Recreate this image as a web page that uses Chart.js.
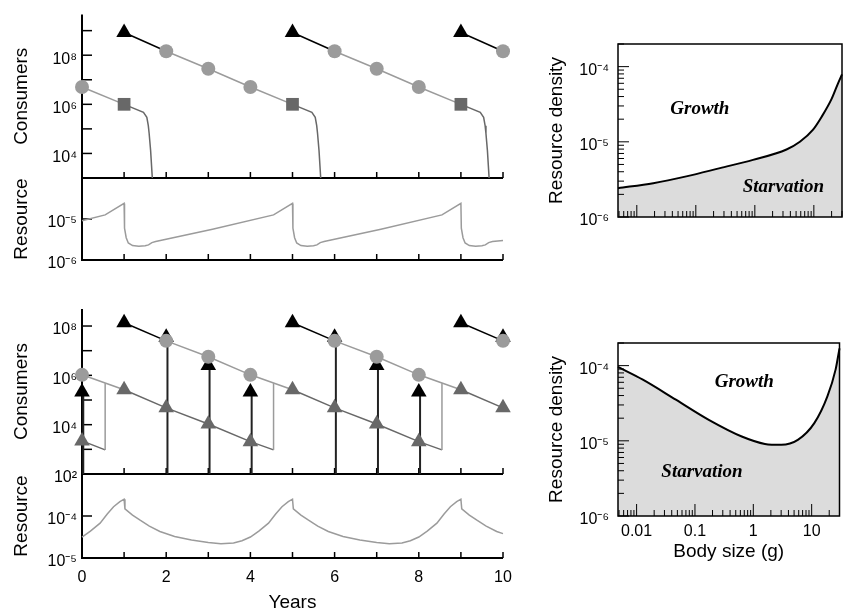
<!DOCTYPE html>
<html><head><meta charset="utf-8">
<script src="https://cdn.jsdelivr.net/npm/chart.js@4.4.1/dist/chart.umd.min.js"></script>
<style>
html,body{margin:0;padding:0;background:#fff;}
#wrap{position:relative;width:845px;height:614px;overflow:hidden;background:#fff;}
#wrap canvas{position:absolute;left:0;top:0;}
</style></head>
<body><div id="wrap">
<canvas id="cA" width="845" height="614"></canvas>
<canvas id="cB" width="845" height="614"></canvas>
<canvas id="cC" width="845" height="614"></canvas>
<canvas id="cD" width="845" height="614"></canvas>
<canvas id="cE" width="845" height="614"></canvas>
<canvas id="cF" width="845" height="614"></canvas>
</div>
<script>
// ---------- shared ticks ----------
const YEARS = [0,1,2,3,4,5,6,7,8,9,10];
const YEAR_LABELS = ['0','','2','','4','','6','','8','','10'];

// ---------- upper-left: consumers (cohorts) ----------
const topC0Birth = -3, topC1Birth = 1, topC2Birth = 5, topC3Birth = 9;
const topC0T = [0, 1, 1.46, 1.54, 1.575, 1.595, 1.63, 1.67];
const topC0N = [5.1e6, 1.0e6, 4.7e5, 2.95e5, 1.35e5, 6.5e4, 1.3e4, 1.0e3];
const topC1T = [1, 2, 3, 4, 5, 5.46, 5.54, 5.575, 5.595, 5.63, 5.67];
const topC1N = [8.4e8, 1.45e8, 2.8e7, 5.1e6, 1.0e6, 4.7e5, 2.95e5, 1.35e5, 6.5e4, 1.3e4, 1.0e3];
const topC2T = [5, 6, 7, 8, 9, 9.46, 9.54, 9.575, 9.595, 9.63, 9.67];
const topC2N = [8.4e8, 1.45e8, 2.8e7, 5.1e6, 1.0e6, 4.7e5, 2.95e5, 1.35e5, 6.5e4, 1.3e4, 1.0e3];
const topC3T = [9, 10];
const topC3N = [8.4e8, 1.45e8];
const topTriT = [1, 5, 9];
const topTriN = [8.4e8, 8.4e8, 8.4e8];
const topCircT = [0, 2, 3, 4, 6, 7, 8, 10];
const topCircN = [5.1e6, 1.45e8, 2.8e7, 5.1e6, 1.45e8, 2.8e7, 5.1e6, 1.45e8];
const topSqT = [1, 5, 9];
const topSqN = [1.0e6, 1.0e6, 1.0e6];
const topConsTicks = [1e3, 1e4, 1e5, 1e6, 1e7, 1e8, 1e9];
const topConsLabels = ['', '10⁴', '', '10⁶', '', '10⁸', ''];

// ---------- upper-left: resource ----------
const topResT = [0, 0.55, 1.0, 1.01, 1.05, 1.1, 1.2, 1.35, 1.5, 1.58, 1.66, 1.75, 3.1, 4.55,
                 5.0, 5.01, 5.05, 5.1, 5.2, 5.35, 5.5, 5.58, 5.66, 5.75, 7.1, 8.55,
                 9.0, 9.01, 9.05, 9.1, 9.2, 9.35, 9.5, 9.58, 9.66, 9.75, 10];
const topResR = [9.1e-6, 1.26e-5, 2.4e-5, 6.0e-6, 3.5e-6, 2.6e-6, 2.25e-6, 2.18e-6, 2.24e-6, 2.34e-6, 2.66e-6, 2.82e-6, 5.6e-6, 1.26e-5,
                 2.4e-5, 6.0e-6, 3.5e-6, 2.6e-6, 2.25e-6, 2.18e-6, 2.24e-6, 2.34e-6, 2.66e-6, 2.82e-6, 5.6e-6, 1.26e-5,
                 2.4e-5, 6.0e-6, 3.5e-6, 2.6e-6, 2.25e-6, 2.18e-6, 2.24e-6, 2.34e-6, 2.66e-6, 2.82e-6, 3.0e-6];
const topResTicks = [1e-6, 1e-5];
const topResLabels = ['10⁻⁶', '10⁻⁵'];

// ---------- lower-left: consumers ----------
const botC0Birth = -7, botC1Birth = -3, botC2Birth = 1, botC3Birth = 5, botC4Birth = 9;
const botC0T = [0, 0.55, 0.55];
const botC0N = [2.2e3, 9.5e2, 4.8e5];
const botC1T = [0, 1, 2, 3, 4, 4.55, 4.55];
const botC1N = [1.05e6, 2.6e5, 4.8e4, 1.07e4, 2.05e3, 9.5e2, 4.8e5];
const botC2T = [1, 2, 3, 4, 5, 6, 7, 8, 8.55, 8.55];
const botC2N = [1.36e8, 2.5e7, 5.7e6, 1.05e6, 2.6e5, 4.8e4, 1.07e4, 2.05e3, 9.5e2, 4.8e5];
const botC3T = [5, 6, 7, 8, 9, 10];
const botC3N = [1.36e8, 2.5e7, 5.7e6, 1.05e6, 2.6e5, 4.8e4];
const botC4T = [9, 10];
const botC4N = [1.36e8, 2.5e7];
const botBlackTriT = [0, 1, 2, 3, 4, 5, 6, 7, 8, 9, 10];
const botBlackTriN = [2.1e5, 1.36e8, 3.5e7, 2.5e6, 2.1e5, 1.36e8, 3.5e7, 2.5e6, 2.1e5, 1.36e8, 3.5e7];
const botCircT = [0, 2, 3, 4, 6, 7, 8, 10];
const botCircN = [1.05e6, 2.5e7, 5.7e6, 1.05e6, 2.5e7, 5.7e6, 1.05e6, 2.5e7];
const botGrayTriT = [0, 1, 2, 3, 4, 5, 6, 7, 8, 9, 10];
const botGrayTriN = [2.2e3, 2.6e5, 4.8e4, 1.07e4, 2.05e3, 2.6e5, 4.8e4, 1.07e4, 2.05e3, 2.6e5, 4.8e4];
const botPulseT = [0.03, 2.03, 3.03, 4.03, 6.03, 7.03, 8.03];
const botPulseN = [2.1e5, 3.5e7, 2.5e6, 2.1e5, 3.5e7, 2.5e6, 2.1e5];
const botPulseBase = 1e2;
const botConsTicks = [1e2, 1e3, 1e4, 1e5, 1e6, 1e7, 1e8];
const botConsLabels = ['10²', '', '10⁴', '', '10⁶', '', '10⁸'];

// ---------- lower-left: resource ----------
const botResT = [0, 0.2, 0.43, 0.6, 0.75, 0.9, 1.0, 1.02, 1.2, 1.38, 1.6, 1.85, 2.2, 2.6, 3.0, 3.3, 3.6, 3.8,
                 4.0, 4.2, 4.43, 4.6, 4.75, 4.9, 5.0, 5.02, 5.2, 5.38, 5.6, 5.85, 6.2, 6.6, 7.0, 7.3, 7.6, 7.8,
                 8.0, 8.2, 8.43, 8.6, 8.75, 8.9, 9.0, 9.02, 9.2, 9.38, 9.6, 9.85, 10];
const botResR = [3.16e-5, 4.37e-5, 6.76e-5, 1.12e-4, 1.66e-4, 2.19e-4, 2.51e-4, 1.48e-4, 1.05e-4, 7.94e-5, 5.75e-5, 4.27e-5, 3.24e-5, 2.69e-5, 2.34e-5, 2.19e-5, 2.29e-5, 2.57e-5,
                 3.16e-5, 4.37e-5, 6.76e-5, 1.12e-4, 1.66e-4, 2.19e-4, 2.51e-4, 1.48e-4, 1.05e-4, 7.94e-5, 5.75e-5, 4.27e-5, 3.24e-5, 2.69e-5, 2.34e-5, 2.19e-5, 2.29e-5, 2.57e-5,
                 3.16e-5, 4.37e-5, 6.76e-5, 1.12e-4, 1.66e-4, 2.19e-4, 2.51e-4, 1.48e-4, 1.05e-4, 7.94e-5, 5.75e-5, 4.27e-5, 3.8e-5];
const botResTicks = [1e-5, 1e-4];
const botResLabels = ['10⁻⁵', '10⁻⁴'];

// ---------- right: growth / starvation boundaries ----------
const sizeTopX = [0.0048, 0.019, 0.069, 0.257, 0.93, 3.44, 5.8, 9.7, 13.5, 20, 25.7, 30];
const densTopY = [2.42e-6, 2.82e-6, 3.47e-6, 4.47e-6, 5.75e-6, 7.9e-6, 1.0e-5, 1.45e-5, 2.14e-5, 3.72e-5, 6.0e-5, 7.9e-5];
const sizeBotX = [0.0048, 0.0128, 0.0471, 0.1726, 0.634, 1.58, 3.02, 5.79, 11.1, 18.6, 25.7, 30];
const densBotY = [9.6e-5, 6.5e-5, 3.52e-5, 1.9e-5, 1.14e-5, 9.1e-6, 8.85e-6, 1.03e-5, 1.72e-5, 3.9e-5, 8.85e-5, 1.7e-4];
const densTicks = [1e-6,2e-6,3e-6,4e-6,5e-6,6e-6,7e-6,8e-6,9e-6,1e-5,2e-5,3e-5,4e-5,5e-5,6e-5,7e-5,8e-5,9e-5,1e-4,2e-4];
const densLabels = ['10⁻⁶','','','','','','','','','10⁻⁵','','','','','','','','','10⁻⁴',''];
const sizeTicks = [0.005,0.006,0.007,0.008,0.009,0.01,0.02,0.03,0.04,0.05,0.06,0.07,0.08,0.09,0.1,0.2,0.3,0.4,0.5,0.6,0.7,0.8,0.9,1,2,3,4,5,6,7,8,9,10,20,30];
const sizeLabels = ['','','','','','0.01','','','','','','','','','0.1','','','','','','','','','1','','','','','','','','','10','',''];
const regionText = ['Growth', 'Starvation'];
const topRegionX = [0.117, 3.05];
const topRegionY = [2.75e-5, 2.53e-6];
const botRegionX = [0.70, 0.132];
const botRegionY = [6.1e-5, 3.86e-6];

// ---------- helpers ----------
Chart.defaults.font.family = "'Liberation Sans', Arial, Helvetica, sans-serif";
Chart.defaults.color = '#000';

const LIGHT = '#9b9b9b', DARK = '#686868';
const TICK_FONT = 16;

function pts(T, V) { return T.map((t, i) => ({x: t, y: V[i]})); }

function cohortLine(T, V, birth) {
  return {
    data: pts(T, V), showLine: true, pointRadius: 0, pointHoverRadius: 0,
    borderWidth: 1.5, borderColor: LIGHT, clip: false, order: 20,
    segment: {
      borderColor: c => {
        if (Math.abs(c.p0.parsed.x - c.p1.parsed.x) < 1e-9) return LIGHT;
        const age = c.p0.parsed.x - birth;
        return age < 0.999 ? '#000' : (age < 3.999 ? LIGHT : DARK);
      }
    }
  };
}
function markers(T, V, style, color, r, order) {
  return {
    data: pts(T, V), showLine: false, pointStyle: style, pointRadius: r, pointHoverRadius: r,
    pointBackgroundColor: color, pointBorderColor: color, pointBorderWidth: 0, clip: false, order: order
  };
}
function plainLine(T, V, color, width, order) {
  return { data: pts(T, V), showLine: true, pointRadius: 0, pointHoverRadius: 0,
           borderColor: color, borderWidth: width, clip: false, order: order };
}

function logY(min, max, ticks, labels, title, width, titlePad, tickPad) {
  return {
    type: 'logarithmic', position: 'left', min: min, max: max,
    afterBuildTicks: s => { s.ticks = ticks.map((v, i) => ({value: v, major: labels[i] !== ''})); },
    afterFit: s => { s.width = width; },
    grid: {display: false, drawTicks: false}, border: {display: false},
    ticks: {autoSkip: false, padding: tickPad, labelOffset: 4, color: '#000', font: {size: TICK_FONT},
            callback: (v, i) => labels[i]},
    title: {display: true, text: title, color: '#000', font: {size: 19}, padding: {top: titlePad, bottom: 0}}
  };
}
function yearX(show) {
  const o = {
    type: 'linear', position: 'bottom', min: 0, max: 10, display: show,
    afterBuildTicks: s => { s.ticks = YEARS.map(v => ({value: v, major: true})); },
    grid: {display: false, drawTicks: false}, border: {display: false},
    ticks: {autoSkip: false, maxRotation: 0, padding: 10, color: '#000', font: {size: TICK_FONT},
            callback: (v, i) => YEAR_LABELS[i]},
    title: {display: show, text: 'Years', color: '#000', font: {size: 19}, padding: {top: 0, bottom: 0}}
  };
  if (show) o.afterFit = s => { s.height = 56; };
  return o;
}
function sizeX(show) {
  const o = {
    type: 'logarithmic', position: 'bottom', min: 0.0048, max: 30, display: show,
    afterBuildTicks: s => { s.ticks = sizeTicks.map((v, i) => ({value: v, major: sizeLabels[i] !== ''})); },
    grid: {display: false, drawTicks: false}, border: {display: false},
    ticks: {autoSkip: false, maxRotation: 0, padding: 5.5, color: '#000', font: {size: TICK_FONT},
            callback: (v, i) => sizeLabels[i]},
    title: {display: show, text: 'Body size (g)', color: '#000', font: {size: 19}, padding: {top: 0, bottom: 0}}
  };
  if (show) o.afterFit = s => { s.height = 47; };
  return o;
}

function drawFrame(chart, o) {
  const {ctx, chartArea: a} = chart;
  const x = chart.scales.x, y = chart.scales.y;
  ctx.save();
  ctx.strokeStyle = '#000';
  ctx.lineCap = 'butt';
  const seg = (x1, y1, x2, y2) => { ctx.beginPath(); ctx.moveTo(x1, y1); ctx.lineTo(x2, y2); ctx.stroke(); };
  ctx.lineWidth = o.tickWidth;
  (x.ticks || []).forEach(t => {
    const px = x.getPixelForValue(t.value);
    seg(px, a.bottom, px, a.bottom - (t.major ? o.xMajor : o.xMinor));
  });
  (y.ticks || []).forEach(t => {
    const py = y.getPixelForValue(t.value);
    seg(a.left, py, a.left + (t.major ? o.yMajor : o.yMinor), py);
  });
  ctx.lineWidth = o.axisWidth;
  if (o.box) {
    ctx.strokeRect(a.left, a.top, a.right - a.left, a.bottom - a.top);
  } else {
    seg(a.left, a.top, a.left, a.bottom + o.axisWidth / 2);
    seg(a.left - o.axisWidth / 2, a.bottom, a.right, a.bottom);
  }
  if (o.texts) {
    ctx.fillStyle = '#000';
    ctx.font = "italic bold 19px 'Liberation Serif', 'Times New Roman', serif";
    ctx.textAlign = 'center';
    ctx.textBaseline = 'middle';
    o.texts.forEach(t => ctx.fillText(t.text, x.getPixelForValue(t.x), y.getPixelForValue(t.y)));
  }
  ctx.restore();
}
const framePlugin = {
  id: 'frame',
  beforeDatasetsDraw(chart, args, o) { if (o.layer === 'before') drawFrame(chart, o); },
  afterDatasetsDraw(chart, args, o) { if (o.layer === 'after') drawFrame(chart, o); }
};

const LEFT_FRAME = {layer: 'before', box: false, axisWidth: 2, tickWidth: 1.5, xMajor: 6, xMinor: 6, yMajor: 10, yMinor: 10};

function make(id, datasets, scales, padding, frame) {
  return new Chart(document.getElementById(id), {
    type: 'scatter',
    data: {datasets: datasets},
    options: {
      responsive: false, animation: false, devicePixelRatio: 1, events: [],
      layout: {padding: padding, autoPadding: false},
      plugins: {legend: {display: false}, tooltip: {enabled: false}, frame: frame},
      scales: scales
    },
    plugins: [framePlugin]
  });
}

// ---------- A: upper consumers ----------
make('cA', [
  cohortLine(topC0T, topC0N, topC0Birth),
  cohortLine(topC1T, topC1N, topC1Birth),
  cohortLine(topC2T, topC2N, topC2Birth),
  cohortLine(topC3T, topC3N, topC3Birth),
  markers(topSqT, topSqN, 'rect', DARK, 9, 3),
  markers(topCircT, topCircN, 'circle', LIGHT, 7, 2),
  markers(topTriT, topTriN, 'triangle', '#000', 9, 1)
], {
  x: yearX(false),
  y: logY(1e3, 4.5e9, topConsTicks, topConsLabels, 'Consumers', 82, 10, 5)
}, {left: 0, top: 13, right: 342, bottom: 436}, LEFT_FRAME);

// ---------- B: upper resource ----------
make('cB', [
  plainLine(topResT, topResR, LIGHT, 1.5, 5)
], {
  x: yearX(false),
  y: logY(1e-6, 1e-4, topResTicks, topResLabels, 'Resource', 82, 10, 5)
}, {left: 0, top: 178, right: 342, bottom: 354}, LEFT_FRAME);

// ---------- C: lower consumers ----------
const pulseSets = botPulseT.map((t, i) => plainLine([t, t], [botPulseBase, botPulseN[i]], '#222', 2, 10));
make('cC', [
  cohortLine(botC0T, botC0N, botC0Birth),
  cohortLine(botC1T, botC1N, botC1Birth),
  cohortLine(botC2T, botC2N, botC2Birth),
  cohortLine(botC3T, botC3N, botC3Birth),
  cohortLine(botC4T, botC4N, botC4Birth),
  ...pulseSets,
  markers(botBlackTriT, botBlackTriN, 'triangle', '#000', 9, 4),
  markers(botCircT, botCircN, 'circle', LIGHT, 7, 3),
  markers(botGrayTriT, botGrayTriN, 'triangle', DARK, 9, 2)
], {
  x: yearX(false),
  y: logY(1e2, 4.9e8, botConsTicks, botConsLabels, 'Consumers', 82, 10, 5)
}, {left: 0, top: 309, right: 342, bottom: 140}, LEFT_FRAME);

// ---------- D: lower resource ----------
make('cD', [
  plainLine(botResT, botResR, LIGHT, 1.5, 5)
], {
  x: yearX(true),
  y: logY(1e-5, 1e-3, botResTicks, botResLabels, 'Resource', 82, 10, 5)
}, {left: 0, top: 474, right: 342, bottom: 0}, LEFT_FRAME);

// ---------- E / F: right panels ----------
function boundary(X, Y) {
  return { data: pts(X, Y), showLine: true, pointRadius: 0, pointHoverRadius: 0,
           borderColor: '#000', borderWidth: 2, fill: 'start', backgroundColor: '#dcdcdc',
           cubicInterpolationMode: 'monotone', clip: false, order: 1 };
}
function rightFrame(X, Y) {
  return {layer: 'after', box: true, axisWidth: 1.5, tickWidth: 1, xMajor: 12, xMinor: 6, yMajor: 11, yMinor: 6,
          texts: regionText.map((t, i) => ({text: t, x: X[i], y: Y[i]}))};
}
make('cE', [boundary(sizeTopX, densTopY)], {
  x: sizeX(false),
  y: logY(1e-6, 2e-4, densTicks, densLabels, 'Resource density', 98, 25.4, 9)
}, {left: 520, top: 44, right: 3, bottom: 397}, rightFrame(topRegionX, topRegionY));

make('cF', [boundary(sizeBotX, densBotY)], {
  x: sizeX(true),
  y: logY(1e-6, 2e-4, densTicks, densLabels, 'Resource density', 98, 25.4, 9)
}, {left: 520, top: 343, right: 3, bottom: 51}, rightFrame(botRegionX, botRegionY));
</script>
</body></html>
